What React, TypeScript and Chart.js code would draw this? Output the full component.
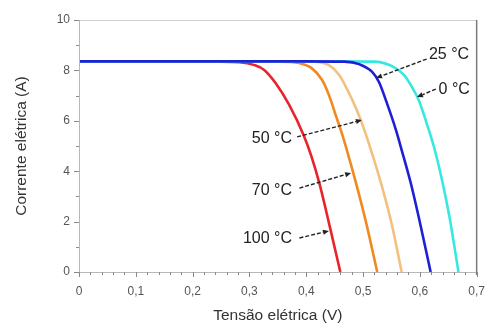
import { useEffect, useRef } from "react";
import { Chart, registerables } from "chart.js";
Chart.register(...registerables);

// Tensão (V) / Corrente (A)
const v100 = [0, 0.1, 0.2, 0.25, 0.282, 0.309, 0.326, 0.346, 0.37, 0.396, 0.409, 0.424, 0.442, 0.46];
const i100 = [8.36, 8.36, 8.35, 8.35, 8.33, 8.21, 8.02, 7.5, 6.63, 5.4, 4.6, 3.45, 1.75, 0];
const v70 = [0, 0.1, 0.2, 0.3, 0.353, 0.388, 0.409, 0.428, 0.44, 0.453, 0.463, 0.472, 0.488, 0.505, 0.525];
const i70 = [8.36, 8.36, 8.36, 8.35, 8.35, 8.29, 8.1, 7.62, 7.02, 6.15, 5.48, 4.8, 3.5, 2.0, 0];
const v50 = [0, 0.1, 0.2, 0.3, 0.414, 0.44, 0.458, 0.481, 0.496, 0.514, 0.532, 0.55, 0.568];
const i50 = [8.36, 8.36, 8.36, 8.36, 8.35, 8.21, 7.82, 6.83, 6.03, 4.84, 3.5, 1.95, 0];
const v25 = [0, 0.1, 0.2, 0.3, 0.4, 0.467, 0.493, 0.516, 0.528, 0.54, 0.558, 0.568, 0.584, 0.598, 0.619];
const i25 = [8.36, 8.36, 8.36, 8.36, 8.36, 8.35, 8.25, 7.94, 7.54, 6.83, 5.63, 4.84, 3.53, 2.18, 0];
const v0 = [0, 0.1, 0.2, 0.3, 0.4, 0.519, 0.551, 0.572, 0.586, 0.598, 0.612, 0.625, 0.638, 0.652, 0.668];
const i0 = [8.36, 8.36, 8.36, 8.36, 8.36, 8.35, 8.17, 7.82, 7.34, 6.83, 5.9, 4.95, 3.75, 2.2, 0];

const seriesNames = ["25 °C", "0 °C", "50 °C", "70 °C", "100 °C"];
const seriesColors = ["#1f1fd6", "#36e8e2", "#f4c07e", "#f08a1e", "#e8232b"];

const xTicks = [0, 0.1, 0.2, 0.3, 0.4, 0.5, 0.6, 0.7];
const yTicks = [0, 2, 4, 6, 8, 10];
const xTitle = "Tensão elétrica (V)";
const yTitle = "Corrente elétrica (A)";

// label text, text anchor (V, A), align, arrow tail (V, A), arrow head (V, A)
const labelTexts = ["25 °C", "0 °C", "50 °C", "70 °C", "100 °C"];
const labelAt = [[0.616, 8.63], [0.633, 7.22], [0.375, 5.28], [0.375, 3.25], [0.375, 1.31]];
const labelAlign = ["left", "left", "right", "right", "right"];
const arrowFrom = [[0.612, 8.45], [0.628, 7.26], [0.384, 5.36], [0.388, 3.33], [0.388, 1.35]];
const arrowTo = [[0.523, 7.7], [0.595, 6.94], [0.498, 6.03], [0.479, 3.93], [0.44, 1.63]];

const FONT = "'Liberation Sans', Arial, sans-serif";

const toPts = (v: number[], c: number[]) => v.map((x, k) => ({ x, y: c[k] }));

const decor = {
  id: "decor",
  afterDraw(chart: any) {
    const { ctx, chartArea: a, scales } = chart;
    const xs = scales.x, ys = scales.y;
    ctx.save();
    // frame
    ctx.lineWidth = 1;
    ctx.strokeStyle = "#cfcfcf";
    ctx.beginPath(); ctx.moveTo(a.left, a.top + 0.5); ctx.lineTo(a.right, a.top + 0.5); ctx.stroke();
    ctx.strokeStyle = "#b8b8b8";
    ctx.beginPath(); ctx.moveTo(a.left + 0.5, a.top); ctx.lineTo(a.left + 0.5, a.bottom); ctx.stroke();
    ctx.beginPath(); ctx.moveTo(a.left, a.bottom + 0.5); ctx.lineTo(a.right, a.bottom + 0.5); ctx.stroke();
    ctx.strokeStyle = "#7a7a7a"; ctx.lineWidth = 1.5;
    ctx.beginPath(); ctx.moveTo(a.right, a.top); ctx.lineTo(a.right, a.bottom + 3); ctx.stroke();
    // ticks
    ctx.lineWidth = 1; ctx.strokeStyle = "#8a8a8a";
    for (let k = 0; k <= 35; k++) {
      const px = Math.round(xs.getPixelForValue(k * 0.02)) + 0.5;
      const len = k % 5 === 0 ? 5 : 3;
      ctx.beginPath(); ctx.moveTo(px, a.bottom); ctx.lineTo(px, a.bottom + len); ctx.stroke();
    }
    for (let k = 0; k <= 10; k++) {
      const py = Math.round(ys.getPixelForValue(k)) + 0.5;
      const len = k % 2 === 0 ? 5 : 3;
      ctx.beginPath(); ctx.moveTo(a.left, py); ctx.lineTo(a.left - len, py); ctx.stroke();
    }
    // axis titles
    ctx.fillStyle = "#333";
    ctx.font = `15.5px ${FONT}`;
    ctx.textAlign = "center"; ctx.textBaseline = "middle";
    ctx.fillText(xTitle, (a.left + a.right) / 2, 316);
    ctx.save();
    ctx.translate(22, (a.top + a.bottom) / 2);
    ctx.rotate(-Math.PI / 2);
    ctx.fillText(yTitle, 0, 0);
    ctx.restore();
    // annotations
    ctx.font = `16px ${FONT}`;
    ctx.fillStyle = "#222";
    labelTexts.forEach((t, k) => {
      ctx.textAlign = labelAlign[k];
      ctx.fillText(t, xs.getPixelForValue(labelAt[k][0]), ys.getPixelForValue(labelAt[k][1]));
      const x1 = xs.getPixelForValue(arrowFrom[k][0]), y1 = ys.getPixelForValue(arrowFrom[k][1]);
      const x2 = xs.getPixelForValue(arrowTo[k][0]), y2 = ys.getPixelForValue(arrowTo[k][1]);
      const ang = Math.atan2(y2 - y1, x2 - x1);
      const hl = 6;
      const bx = x2 - hl * Math.cos(ang), by = y2 - hl * Math.sin(ang);
      ctx.strokeStyle = "#222"; ctx.lineWidth = 1.4;
      ctx.setLineDash([4, 2]);
      ctx.beginPath(); ctx.moveTo(x1, y1); ctx.lineTo(bx, by); ctx.stroke();
      ctx.setLineDash([]);
      ctx.beginPath();
      ctx.moveTo(x2, y2);
      ctx.lineTo(bx + 2.6 * Math.sin(ang), by - 2.6 * Math.cos(ang));
      ctx.lineTo(bx - 2.6 * Math.sin(ang), by + 2.6 * Math.cos(ang));
      ctx.closePath(); ctx.fill();
    });
    ctx.restore();
  },
};

export default function App() {
  const ref = useRef<HTMLCanvasElement>(null);
  useEffect(() => {
    const series = [toPts(v25, i25), toPts(v0, i0), toPts(v50, i50), toPts(v70, i70), toPts(v100, i100)];
    const hiddenGrid = { display: true, drawOnChartArea: false, drawTicks: true, tickLength: 8, color: "rgba(0,0,0,0)" };
    const chart = new Chart(ref.current!, {
      type: "line",
      data: {
        datasets: series.map((d, k) => ({
          label: seriesNames[k],
          data: d,
          borderColor: seriesColors[k],
          backgroundColor: seriesColors[k],
          borderWidth: 2.6,
          pointRadius: 0,
          cubicInterpolationMode: "monotone" as const,
          fill: false,
        })),
      },
      options: {
        animation: false,
        responsive: false,
        events: [],
        layout: { padding: { left: 0, right: 11, top: 20, bottom: 0 } },
        plugins: { legend: { display: false }, tooltip: { enabled: false } },
        scales: {
          x: {
            type: "linear",
            min: 0,
            max: 0.7,
            afterFit: (s: any) => { s.height = 52; },
            afterBuildTicks: (s: any) => { s.ticks = xTicks.map((value) => ({ value })); },
            grid: hiddenGrid,
            border: { display: false },
            ticks: {
              padding: 4,
              color: "#555",
              font: { family: FONT, size: 12 },
              maxRotation: 0,
              callback: (v: any) => (Number(v) === 0 ? "0" : Number(v).toFixed(1).replace(".", ",")),
            },
          },
          y: {
            type: "linear",
            min: 0,
            max: 10,
            afterFit: (s: any) => { s.width = 79; },
            afterBuildTicks: (s: any) => { s.ticks = yTicks.map((value) => ({ value })); },
            grid: { ...hiddenGrid, tickLength: 6 },
            border: { display: false },
            ticks: {
              padding: 3,
              color: "#555",
              font: { family: FONT, size: 12 },
              callback: (v: any) => String(v),
            },
          },
        },
      },
      plugins: [decor],
    });
    return () => chart.destroy();
  }, []);
  return (
    <div style={{ position: "absolute", left: 0, top: 0, width: 489, height: 324, background: "#fff" }}>
      <canvas ref={ref} width={489} height={324} />
    </div>
  );
}
